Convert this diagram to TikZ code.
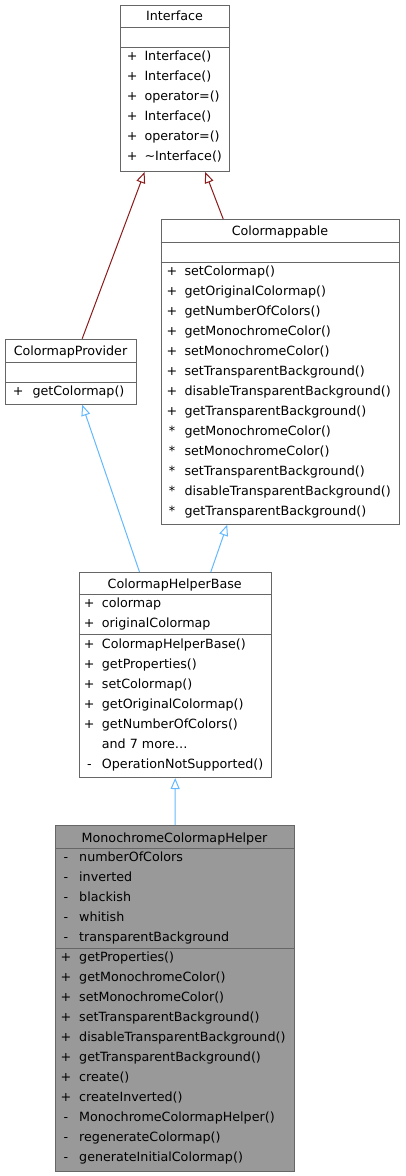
\documentclass[tikz,border=0pt]{standalone}
\usepackage{fontspec}
\setmainfont{DejaVu Sans}
\usetikzlibrary{arrows.meta}
\definecolor{edgered}{HTML}{8B1A1A}
\definecolor{edgeblue}{HTML}{63B8FF}
\definecolor{boxline}{HTML}{666666}
\definecolor{boxfill}{HTML}{999999}
\newcommand{\members}[5]{\foreach \mk/\txt [count=\i from 0] in {#5} {
    \node[vis] (#1-m\i) at (#2,{#4+20*\i+4}) {\mk};
    \node[memb] (#1-t\i) at (#3,{#4+20*\i+4}) {\txt};}}

\begin{document}
\begin{tikzpicture}[x=1pt,y=-1pt,
  klass/.style={draw=boxline,line width=1pt,anchor=north west,inner sep=0pt},
  ttl/.style={anchor=base,inner sep=0pt,font=\fontsize{12.7}{15}\selectfont},
  vis/.style={anchor=base,inner sep=0pt,font=\fontsize{12.7}{15}\selectfont},
  memb/.style={anchor=base west,inner sep=0pt,font=\fontsize{12.7}{15}\selectfont},
  sep/.style={boxline,line width=1pt},
  inh/.style={draw=#1,line width=1pt,-{Triangle[open,length=11pt,width=9pt]}}]
  \useasboundingbox (0,0) rectangle (405,1176);

  \node[klass,minimum width=109,minimum height=166] (iface) at (120,5) {};
  \node[klass,minimum width=238.6,minimum height=304.7] (cmap) at (160.7,219) {};
  \node[klass,minimum width=131,minimum height=65] (prov) at (5,338.7) {};
  \node[klass,minimum width=192,minimum height=205] (base) at (78.7,572) {};
  \node[klass,fill=boxfill,minimum width=239,minimum height=345.7] (mono) at (55,825) {};

  \node[ttl] (iface-ttl) at (174.5,20.7) {Interface};
  \draw[sep] (120,27.7) -- (229,27.7);
  \draw[sep] (120,47.7) -- (229,47.7);
  \members{iface}{132.3}{144.3}{56.7}{+/Interface(),+/Interface(),+/operator=(),
    +/Interface(),+/operator=(),+/\textasciitilde Interface()}

  \node[ttl] (cmap-ttl) at (280,235.6) {Colormappable};
  \draw[sep] (160.7,242.3) -- (399.3,242.3);
  \draw[sep] (160.7,262) -- (399.3,262);
  \members{cmap}{172}{184.3}{271}{+/setColormap(),+/getOriginalColormap(),
    +/getNumberOfColors(),+/getMonochromeColor(),+/setMonochromeColor(),
    +/setTransparentBackground(),+/disableTransparentBackground(),
    +/getTransparentBackground(),*/getMonochromeColor(),*/setMonochromeColor(),
    */setTransparentBackground(),*/disableTransparentBackground(),
    */getTransparentBackground()}

  \node[ttl] (prov-ttl) at (70.5,355.7) {ColormapProvider};
  \draw[sep] (5,362.3) -- (136,362.3);
  \draw[sep] (5,382.7) -- (136,382.7);
  \members{prov}{18.3}{32.3}{391.7}{+/getColormap()}

  \node[ttl] (base-ttl) at (174.7,588) {ColormapHelperBase};
  \draw[sep] (78.7,594.7) -- (270.7,594.7);
  \draw[sep] (78.7,634.7) -- (270.7,634.7);
  \members{base}{89.3}{101.7}{603.3}{+/colormap,+/originalColormap}
  \members{basef}{89.3}{101.7}{644}{+/ColormapHelperBase(),+/getProperties(),
    +/setColormap(),+/getOriginalColormap(),+/getNumberOfColors(),
    {}/and 7 more\ldots,-/OperationNotSupported()}

  \node[ttl] (mono-ttl) at (174.5,842.3) {MonochromeColormapHelper};
  \draw[sep] (55,848.3) -- (294,848.3);
  \draw[sep] (55,948) -- (294,948);
  \members{mono}{66}{79}{857.7}{-/numberOfColors,-/inverted,-/blackish,
    -/whitish,-/transparentBackground}
  \members{monof}{66}{79}{957}{+/getProperties(),+/getMonochromeColor(),
    +/setMonochromeColor(),+/setTransparentBackground(),
    +/disableTransparentBackground(),+/getTransparentBackground(),+/create(),
    +/createInverted(),-/MonochromeColormapHelper(),-/regenerateColormap(),
    -/generateInitialColormap()}

  \draw[inh=edgered] ([xshift=11.2]prov.north) -- ([xshift=-30.4]iface.south);
  \draw[inh=edgered] ([xshift=-57.3]cmap.north) -- ([xshift=30.2]iface.south);
  \draw[inh=edgeblue] ([xshift=-35.7]base.north) -- ([xshift=11.2]prov.south);
  \draw[inh=edgeblue] ([xshift=35.6]base.north) -- ([xshift=-53.3]cmap.south);
  \draw[inh=edgeblue] (mono.north) -- (base.south);
\end{tikzpicture}
\end{document}
